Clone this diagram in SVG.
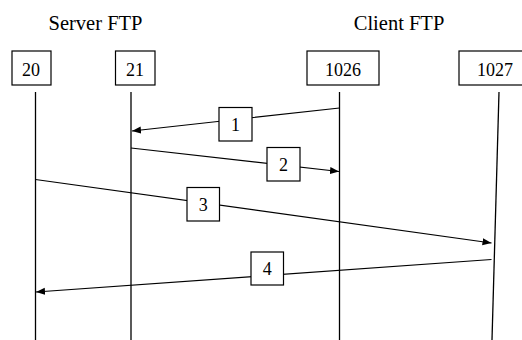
<svg xmlns="http://www.w3.org/2000/svg" width="522" height="340" viewBox="0 0 522 340">
<style>
.bg{fill:#fff}
.box{fill:#fff;stroke:#000;stroke-width:1.2}
.life{stroke:#000;stroke-width:1.3;fill:none}
.msg{stroke:#000;stroke-width:1.2;fill:none}
.title{font-family:"Liberation Serif","Times New Roman",serif;font-size:20.5px;fill:#000;text-anchor:middle}
.lbl{font-family:"Liberation Serif","Times New Roman",serif;font-size:18px;fill:#000;text-anchor:middle}
</style>
<defs>
<marker id="ah" markerUnits="userSpaceOnUse" markerWidth="10" markerHeight="8" refX="9" refY="3.5" orient="auto">
<path d="M0,0 L9,3.5 L0,7 z" fill="#000"/>
</marker>
</defs>
<rect class="bg" x="0" y="0" width="522" height="340"/>
<text class="title" x="95.5" y="29.5">Server FTP</text>
<text class="title" x="399" y="29.5">Client FTP</text>
<g id="lifelines">
<line class="life" x1="35.5" y1="92" x2="35.5" y2="340"/>
<line class="life" x1="131" y1="92" x2="131" y2="340"/>
<line class="life" x1="339.5" y1="92" x2="339.5" y2="340"/>
<line class="life" x1="499" y1="92" x2="492" y2="340"/>
</g>
<g id="node-20"><rect class="box" x="12" y="51" width="39" height="34"/><text class="lbl" x="31" y="75.5">20</text></g>
<g id="node-21"><rect class="box" x="115.5" y="51" width="39.5" height="34"/><text class="lbl" x="135" y="75.5">21</text></g>
<g id="node-1026"><rect class="box" x="307" y="51" width="72" height="34"/><text class="lbl" x="343" y="75.5">1026</text></g>
<g id="node-1027"><rect class="box" x="459" y="51" width="72" height="34"/><text class="lbl" x="495" y="75.5">1027</text></g>
<g id="connectors">
<line class="msg" x1="339.5" y1="108" x2="132" y2="131" marker-end="url(#ah)"/>
<line class="msg" x1="131" y1="148" x2="339" y2="171.5" marker-end="url(#ah)"/>
<line class="msg" x1="35.5" y1="179.5" x2="491.5" y2="243" marker-end="url(#ah)"/>
<line class="msg" x1="491.5" y1="259.5" x2="36" y2="292" marker-end="url(#ah)"/>
</g>
<g id="label-1"><rect class="box" x="219" y="107.5" width="33" height="33.5"/><text class="lbl" x="235.5" y="130.5">1</text></g>
<g id="label-2"><rect class="box" x="267" y="147.5" width="33" height="33.5"/><text class="lbl" x="283.5" y="170.5">2</text></g>
<g id="label-3"><rect class="box" x="187" y="187.5" width="32.5" height="33.5"/><text class="lbl" x="203.3" y="210.5">3</text></g>
<g id="label-4"><rect class="box" x="251" y="252" width="32.5" height="33"/><text class="lbl" x="267.3" y="275">4</text></g>
</svg>
